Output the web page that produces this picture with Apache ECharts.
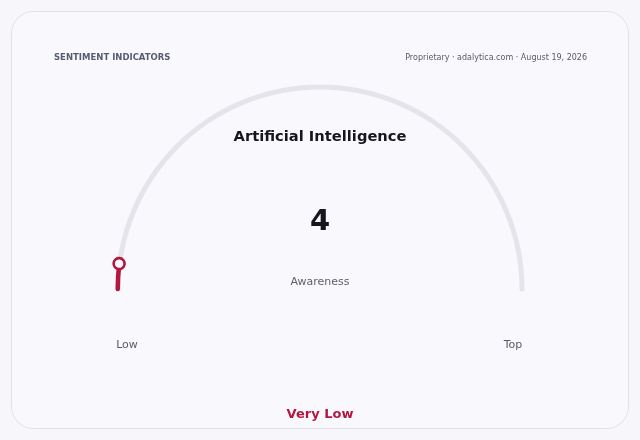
<!DOCTYPE html>
<html>
<head>
<meta charset="utf-8">
<script src="https://cdn.jsdelivr.net/npm/echarts@6/dist/echarts.min.js"></script>
<style>
html,body{margin:0;padding:0;background:#f7f7fb;}
#c{width:640px;height:440px;}
</style>
</head>
<body>
<div id="c"></div>
<script>
const headerLeft = 'SENTIMENT INDICATORS';
const headerRight = 'Proprietary · adalytica.com · August 19, 2026';
const chartTitle = 'Artificial Intelligence';
const gaugeName = 'Awareness';
const gaugeValues = [4];
const gaugeRange = [0, 100];
const scaleLabels = ['Low', 'Top'];
const ratingLabel = 'Very Low';

const RED = '#b3173f';
const FONT = 'DejaVu Sans';
const common = {
  type: 'gauge',
  center: [320, 289],
  radius: 204.5,
  startAngle: 180,
  endAngle: 0,
  min: gaugeRange[0],
  max: gaugeRange[1],
  splitLine: {show: false},
  axisTick: {show: false},
  axisLabel: {show: false},
  anchor: {show: false}
};
const chart = echarts.init(document.getElementById('c'), null, {renderer: 'canvas'});
chart.setOption({
  backgroundColor: '#f7f7fb',
  animation: false,
  graphic: [
    {type: 'rect', shape: {x: 11.5, y: 11.5, width: 617, height: 417, r: 22},
     style: {fill: '#f9f9fd', stroke: '#e1e1ea', lineWidth: 1}, z: -10},
    {type: 'text', x: 54, y: 57.5, style: {text: headerLeft, font: 'bold 8.5px ' + FONT, fill: '#575b70', verticalAlign: 'middle'}},
    {type: 'text', x: 587, y: 57.5, style: {text: headerRight, font: '8px ' + FONT, fill: '#5a5a66', align: 'right', verticalAlign: 'middle'}},
    {type: 'text', x: 320, y: 137.5, style: {text: chartTitle, font: 'bold 14.7px ' + FONT, fill: '#16161c', align: 'center', verticalAlign: 'middle'}},
    {type: 'text', x: 127, y: 345.5, style: {text: scaleLabels[0], font: '11px ' + FONT, fill: '#5a5a66', align: 'center', verticalAlign: 'middle'}},
    {type: 'text', x: 513, y: 345.5, style: {text: scaleLabels[1], font: '11px ' + FONT, fill: '#5a5a66', align: 'center', verticalAlign: 'middle'}},
    {type: 'text', x: 320, y: 414.5, style: {text: ratingLabel, font: 'bold 13px ' + FONT, fill: RED, align: 'center', verticalAlign: 'middle'}}
  ],
  series: [
    Object.assign({}, common, {
      z: 2,
      axisLine: {roundCap: true, lineStyle: {width: 5, color: [[1, '#e4e4eb']]}},
      progress: {show: true, width: 4.5, roundCap: true, itemStyle: {color: RED}},
      pointer: {show: false},
      title: {show: true, offsetCenter: [0, -7], fontSize: 11, color: '#5f5f6b', fontFamily: FONT},
      detail: {show: true, offsetCenter: [0, -67], fontSize: 29, fontWeight: 'bold', color: '#16161c', fontFamily: FONT, formatter: '{value}'},
      data: gaugeValues.map(v => ({value: v, name: gaugeName}))
    }),
    Object.assign({}, common, {
      z: 5,
      axisLine: {show: false},
      progress: {show: false},
      pointer: {
        show: true,
        icon: 'circle',
        length: 11,
        width: 11,
        offsetCenter: [0, -197],
        itemStyle: {color: '#f9f9fd', borderColor: RED, borderWidth: 2.6}
      },
      title: {show: false},
      detail: {show: false},
      data: gaugeValues.map(v => ({value: v}))
    })
  ]
});
</script>
</body>
</html>
